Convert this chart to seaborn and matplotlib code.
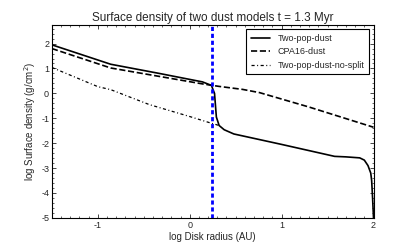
import matplotlib
matplotlib.use("Agg")
import matplotlib.pyplot as plt
import seaborn as sns
from matplotlib.ticker import AutoMinorLocator

sns.set_style("ticks")
plt.rcParams['font.family'] = ['Liberation Sans', 'DejaVu Sans']

# Two-pop-dust (solid)
two_pop_x = [-1.50, -0.86, -0.33, 0.14, 0.236, 0.27, 0.29, 0.32, 0.375, 0.48,
             1.00, 1.577, 1.70, 1.85, 1.90, 1.94, 1.97, 1.98, 1.99, 2.00]
two_pop_y = [1.95, 1.17, 0.80, 0.46, 0.32, 0.00, -0.95, -1.29, -1.46, -1.63,
             -2.05, -2.53, -2.55, -2.59, -2.68, -2.90, -3.20, -3.50, -4.20, -5.00]

# CPA16-dust (dashed)
cpa_x = [-1.50, -0.86, 0.14, 0.32, 0.575, 0.76, 1.30, 2.00]
cpa_y = [1.80, 1.02, 0.38, 0.28, 0.16, 0.03, -0.55, -1.36]

# Two-pop-dust-no-split (dash-dot)
nosplit_x = [-1.50, -1.00, -0.86, -0.44, 0.00, 0.21, 0.32]
nosplit_y = [1.04, 0.27, 0.15, -0.45, -0.93, -1.17, -1.29]

snow_line = 0.247

fig, ax = plt.subplots(figsize=(4.15, 2.49), dpi=100)
fig.subplots_adjust(left=0.125, right=0.9, bottom=0.125, top=0.9)

sns.lineplot(x=two_pop_x, y=two_pop_y, ax=ax, color='black', lw=1.2, ls='-',
             label='Two-pop-dust', sort=False, estimator=None)
sns.lineplot(x=cpa_x, y=cpa_y, ax=ax, color='black', lw=1.2, ls='--',
             label='CPA16-dust', sort=False, estimator=None)
sns.lineplot(x=nosplit_x, y=nosplit_y, ax=ax, color='black', lw=0.9,
             ls=(0, (2.5, 2.0, 0.8, 2.0)),
             label='Two-pop-dust-no-split', sort=False, estimator=None)
ax.axvline(snow_line, color='#0000ff', ls=(0, (1.5, 1.0)), lw=2)

ax.set_xlim(-1.5, 2.0)
ax.set_ylim(-5, 2.75)
ax.set_xticks([-1, 0, 1, 2])
ax.set_xticklabels(['-1', '0', '1', '2'])
ax.set_yticks([-5, -4, -3, -2, -1, 0, 1, 2])
ax.set_yticklabels(['-5', '-4', '-3', '-2', '-1', '0', '1', '2'])
ax.xaxis.set_minor_locator(AutoMinorLocator(10))
ax.yaxis.set_minor_locator(AutoMinorLocator(5))
ax.tick_params(which='both', direction='in', top=True, right=True, labelsize=6.5, pad=2)
ax.tick_params(which='major', length=3, width=0.6)
ax.tick_params(which='minor', length=1.5, width=0.5)
for s in ax.spines.values():
    s.set_linewidth(0.8)
    s.set_color('black')

ax.set_xlabel('log Disk radius (AU)', fontsize=7, labelpad=2)
ax.set_ylabel('log Surface density (g/cm$^2$)', fontsize=7, labelpad=2)
ax.set_title('Surface density of two dust models t = 1.3 Myr', fontsize=8.5, pad=3)

leg = ax.legend(loc='upper right', fontsize=6.5, fancybox=False, framealpha=1,
                edgecolor='black', handlelength=2.2, borderpad=0.5, labelspacing=0.5)
leg.get_frame().set_linewidth(0.8)

fig.savefig('out.png', dpi=100)
